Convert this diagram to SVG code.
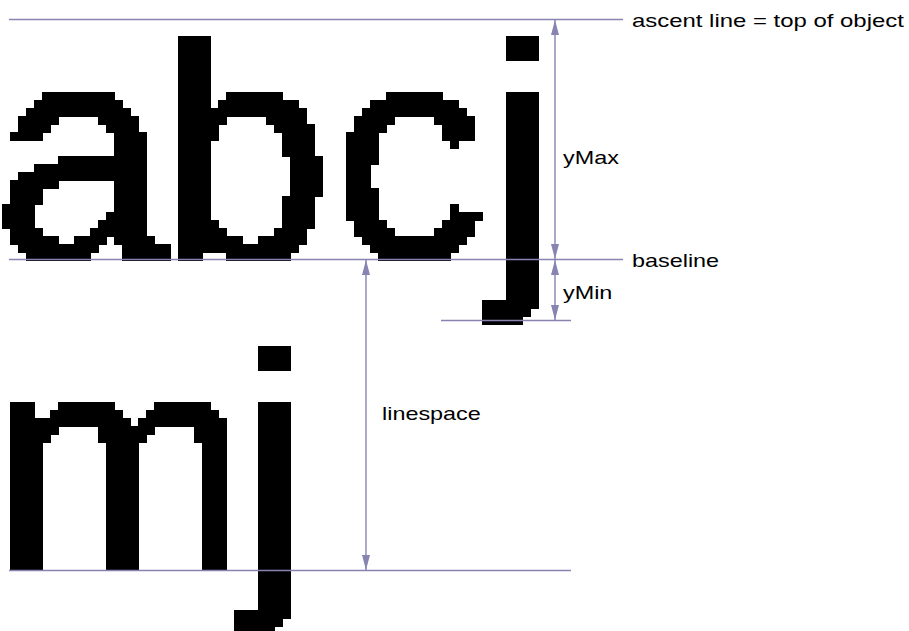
<svg xmlns="http://www.w3.org/2000/svg" width="909" height="631" viewBox="0 0 909 631">
<style>
.glyph{font-family:"Liberation Sans",Arial,sans-serif;font-size:311px;fill:#000;stroke:#000;stroke-width:3}
.lbl{font-family:"Liberation Sans",Arial,sans-serif;font-size:18px;fill:#000}
.ln{stroke:#8784b2;stroke-width:1.4;fill:none}
.dim{stroke:#8784b2;stroke-width:1.4;fill:none;marker-start:url(#ah);marker-end:url(#ah)}
</style>
<defs>
<marker id="ah" viewBox="0 0 15 8" refX="15" refY="4" markerWidth="15" markerHeight="8" markerUnits="userSpaceOnUse" orient="auto-start-reverse">
<path d="M0,0 L15,4 L0,8 Z" fill="#8784b2"/>
</marker>
<filter id="pix" filterUnits="userSpaceOnUse" primitiveUnits="userSpaceOnUse" x="-16" y="-256" width="640" height="336">
<feComponentTransfer in="SourceGraphic" result="th">
<feFuncA type="discrete" tableValues="0 1"/>
</feComponentTransfer>
<feFlood x="4" y="4" width="1" height="1" flood-color="#000" flood-opacity="1"/>
<feComposite x="0" y="0" width="8" height="8"/>
<feTile result="grid"/>
<feComposite in="th" in2="grid" operator="in"/>
<feMorphology operator="dilate" radius="4"/>
</filter>
</defs>
<rect width="909" height="631" fill="#fff"/>
<g id="line1" transform="translate(2,260)" filter="url(#pix)">
<text class="glyph" x="-8 156 329 487" y="0">abcj</text>
</g>
<g id="line2" transform="translate(2,570)" filter="url(#pix)">
<text class="glyph" x="-12 241" y="0">mj</text>
</g>
<g id="connectors">
<line class="ln" x1="9" y1="19.5" x2="623" y2="19.5"/>
<line class="ln" x1="9" y1="259.5" x2="623" y2="259.5"/>
<line class="ln" x1="441" y1="320.5" x2="571" y2="320.5"/>
<line class="ln" x1="9" y1="570.5" x2="571" y2="570.5"/>
<line class="dim" x1="555" y1="20" x2="555" y2="259"/>
<line class="dim" x1="555" y1="260" x2="555" y2="320"/>
<line class="dim" x1="366" y1="260" x2="366" y2="570"/>
</g>
<g id="labels">
<text class="lbl" transform="translate(632,27) scale(1.33,1)">ascent line = top of object</text>
<text class="lbl" transform="translate(563,164) scale(1.3,1)">yMax</text>
<text class="lbl" transform="translate(632,267) scale(1.3,1)">baseline</text>
<text class="lbl" transform="translate(563,299) scale(1.3,1)">yMin</text>
<text class="lbl" transform="translate(382,420) scale(1.3,1)">linespace</text>
</g>
</svg>
